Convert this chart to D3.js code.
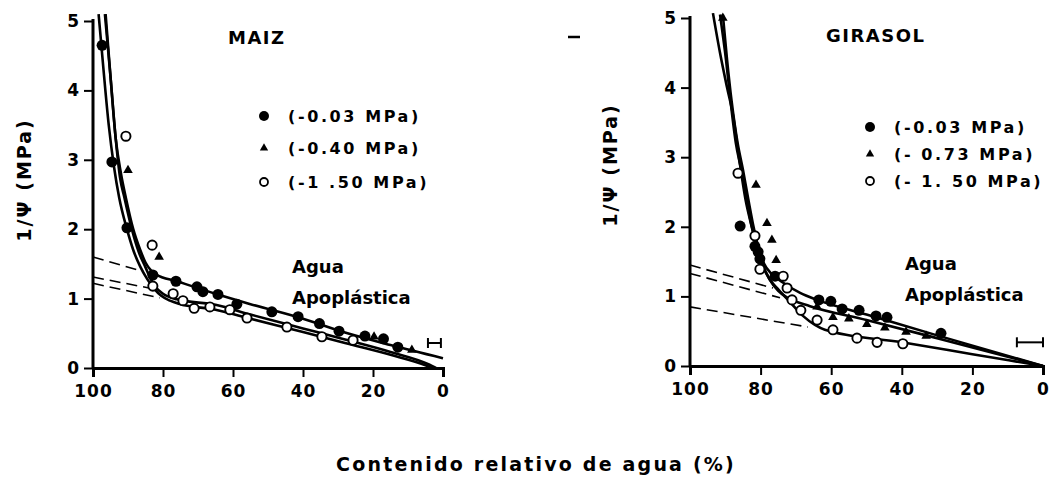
<!DOCTYPE html>
<html>
<head>
<meta charset="utf-8">
<script src="https://cdn.jsdelivr.net/npm/d3@7"></script>
<style>
body{margin:0;background:#fff;}
text{font-family:"DejaVu Sans",sans-serif;fill:#000;}
</style>
</head>
<body>
<script>
// ---- data (RWC %, 1/psi MPa) ----
var xTicks = [100,80,60,40,20,0];
var yTicks = [0,1,2,3,4,5];

// MAIZ
var maizFilled = [[97.4,4.65],[94.6,2.97],[90.3,2.02],[82.9,1.34],[76.3,1.25],[70.3,1.17],[68.6,1.10],[64.3,1.06],[58.9,0.92],[48.9,0.81],[41.4,0.74],[35.3,0.64],[29.7,0.53],[22.3,0.46],[17,0.42],[12.9,0.30]];
var maizTri = [[90,2.85],[81.1,1.60],[19.7,0.45],[8.9,0.26]];
var maizOpen = [[90.6,3.34],[83.1,1.77],[82.9,1.18],[77.1,1.07],[74.3,0.97],[71.1,0.86],[66.6,0.88],[60.9,0.84],[56,0.72],[44.6,0.59],[34.6,0.45],[25.7,0.40]];
var maizCurves = [
  [[98.4,5.1],[97,4.3],[95.5,3.5],[94,2.9],[92.5,2.45],[90.3,2.0],[88.5,1.7],[86.5,1.46],[84.5,1.28],[82.5,1.14],[80.5,1.04],[78,0.97],[75,0.92],[65,0.84],[55,0.71],[40,0.52],[28,0.36],[15,0.19],[5,0.04],[3,0]],
  [[96.6,5.1],[95,4.2],[93.5,3.3],[92.3,2.75],[91,2.45],[88.9,2.0],[87,1.68],[85,1.45],[83.5,1.28],[82,1.16],[80,1.07],[76,0.99],[65,0.91],[55,0.77],[40,0.57],[28,0.41],[15,0.23],[4,0.05],[2,0]],
  [[96.4,5.1],[95,4.2],[93.5,3.3],[92,2.8],[90.6,2.45],[88.5,2.0],[86.5,1.7],[85,1.52],[83.5,1.41],[82,1.35],[76,1.25],[65,1.07],[55,0.92],[40,0.71],[28,0.51],[15,0.33],[0,0.14]]
];
var maizDashed = [[[100,1.60],[87,1.41]],[[100,1.31],[83.7,1.15]],[[100,1.22],[80.9,1.01]]];
var maizErr = [[4.3,0.36],[0.6,0.36]];
var maizLegend = ["(-0.03  MPa)","(-0.40  MPa)","(-1 .50  MPa)"];

// GIRASOL
var giraFilled = [[85.8,2.01],[81.6,1.72],[80.7,1.64],[80.2,1.54],[75.9,1.29],[63.5,0.95],[60.1,0.93],[56.9,0.82],[52.1,0.80],[47.3,0.72],[44.2,0.70],[28.9,0.47]];
var giraTri = [[90.7,5.0],[81.3,2.60],[78.2,2.05],[76.8,1.81],[75.6,1.52],[64,0.85],[59.5,0.70],[55,0.68],[49.9,0.60],[44.8,0.55],[38.8,0.49],[33.1,0.43]];
var giraOpen = [[86.4,2.77],[81.6,1.87],[80.2,1.39],[73.6,1.29],[72.5,1.12],[71.1,0.95],[68.6,0.80],[64,0.66],[59.5,0.52],[52.7,0.40],[47,0.34],[39.7,0.32]];
var giraCurves = [
  [[90.7,5.05],[89.5,4.4],[88.2,3.8],[86.5,3.2],[85,2.82],[83.5,2.4],[82,2.0],[80.6,1.7],[79,1.47],[77,1.33],[73.7,1.2],[68.8,1.05],[64,0.95],[50,0.74],[30,0.44],[0,0]],
  [[91.5,5.05],[89.8,4.4],[88.5,3.8],[87,3.2],[85.5,2.82],[84,2.4],[82.5,2.0],[81,1.7],[79.5,1.47],[77.5,1.25],[75,1.08],[72,0.97],[66,0.86],[50,0.66],[30,0.40],[0,0]],
  [[93.5,5.07],[91.5,4.5],[89.5,4.0],[87.8,3.6],[86,2.95],[84.3,2.4],[82.5,2.0],[81,1.7],[79.5,1.45],[77.5,1.25],[75,1.1],[71.7,0.92],[68,0.72],[64.6,0.59],[61.8,0.52],[40,0.34],[20,0.17],[0,0]]
];
var giraDashed = [[[100,1.45],[76.5,1.12]],[[100,1.33],[74.5,0.98]],[[100,0.85],[66.6,0.56]]];
var giraErr = [[7.4,0.34],[0,0.34]];
var giraLegend = ["(-0.03  MPa)","(- 0.73  MPa)","(- 1. 50  MPa)"];

var svg = d3.select("body").append("svg").attr("width",1052).attr("height",477);

var drawPanel = function(p){
  var x = d3.scaleLinear().domain([100,0]).range(p.xr);
  var y = d3.scaleLinear().domain([0,5]).range(p.yr);
  var g = svg.append("g");

  var yAxis = g.append("g").attr("transform","translate("+p.xr[0]+",0)")
    .call(d3.axisLeft(y).tickValues(yTicks).tickSize(9).tickFormat(d3.format("d")));
  var xAxis = g.append("g").attr("transform","translate(0,"+p.yr[0]+")")
    .call(d3.axisBottom(x).tickValues(xTicks).tickSize(9).tickFormat(d3.format("d")));
  [yAxis,xAxis].forEach(function(a){
    a.select(".domain").attr("stroke","#000").attr("stroke-width",3);
    a.selectAll(".tick line").attr("stroke","#000").attr("stroke-width",2);
    a.selectAll(".tick text").style("font-size","17px").style("font-weight","bold").attr("fill","#000");
  });
  yAxis.selectAll(".tick text").attr("x",-14);
  xAxis.selectAll(".tick text").attr("y",17).style("letter-spacing","1px");
  yAxis.select(".domain").attr("d","M0,"+p.yr[0]+"V"+(p.yr[1]-2));

  var sorted = function(a){return a.slice().sort(function(m,n){return n[0]-m[0];});};
  var line = d3.line().x(function(d){return x(d[0]);}).y(function(d){return y(d[1]);})
    .curve(d3.curveMonotoneX);
  g.selectAll(".curve").data(p.curves.map(sorted)).enter().append("path")
    .attr("d",line).attr("fill","none").attr("stroke","#000").attr("stroke-width",2.6);
  g.selectAll(".dash").data(p.dashed).enter().append("path")
    .attr("d",d3.line().x(function(d){return x(d[0]);}).y(function(d){return y(d[1]);}))
    .attr("fill","none").attr("stroke","#000").attr("stroke-width",1.6).attr("stroke-dasharray","11,6");

  // error bar
  g.append("path").attr("d",d3.line().x(function(d){return x(d[0]);}).y(function(d){return y(d[1]);})(p.err))
    .attr("stroke","#000").attr("stroke-width",2);
  p.err.forEach(function(d){
    g.append("line").attr("x1",x(d[0])).attr("x2",x(d[0])).attr("y1",y(d[1])-5).attr("y2",y(d[1])+5)
      .attr("stroke","#000").attr("stroke-width",2);
  });

  // markers
  g.selectAll(".f").data(p.filled).enter().append("circle")
    .attr("cx",function(d){return x(d[0]);}).attr("cy",function(d){return y(d[1]);})
    .attr("r",5.5).attr("fill","#000");
  g.selectAll(".o").data(p.open).enter().append("circle")
    .attr("cx",function(d){return x(d[0]);}).attr("cy",function(d){return y(d[1]);})
    .attr("r",4.6).attr("fill","#fff").attr("stroke","#000").attr("stroke-width",1.9);
  g.selectAll(".t").data(p.tri).enter().append("path")
    .attr("d",d3.symbol().type(d3.symbolTriangle).size(40))
    .attr("transform",function(d){return "translate("+x(d[0])+","+y(d[1])+")";})
    .attr("fill","#000");

  // title
  g.append("text").attr("x",p.title[1]).attr("y",p.title[2]).text(p.title[0])
    .style("font-size","18px").style("font-weight","bold").style("letter-spacing","1.5px");

  // legend
  p.legendY.forEach(function(ly,i){
    if(i==0) g.append("circle").attr("cx",p.legendX).attr("cy",ly).attr("r",5).attr("fill","#000");
    if(i==1) g.append("path").attr("d",d3.symbol().type(d3.symbolTriangle).size(30)).attr("transform","translate("+p.legendX+","+ly+")").attr("fill","#000");
    if(i==2) g.append("circle").attr("cx",p.legendX).attr("cy",ly).attr("r",4).attr("fill","#fff").attr("stroke","#000").attr("stroke-width",1.8);
    g.append("text").attr("x",p.legendX+24).attr("y",ly+6).text(p.legend[i])
      .style("font-size","16px").style("letter-spacing","2.6px").style("font-weight","bold");
  });

  // annotation
  g.append("text").attr("x",p.agua[0]).attr("y",p.agua[1]).text("Agua")
    .style("font-size","18px").style("font-weight","bold");
  g.append("text").attr("x",p.agua[0]).attr("y",p.agua[1]+31).text("Apoplástica")
    .style("font-size","18px").style("font-weight","bold");

  // y label
  g.append("text").attr("transform","translate("+p.ylab[0]+","+p.ylab[1]+") rotate(-90)")
    .attr("text-anchor","middle").text("1/Ψ  (MPa)")
    .style("font-size","19px").style("font-weight","bold").style("letter-spacing","2px");
};

drawPanel({xr:[93,443],yr:[368,21],filled:maizFilled,tri:maizTri,open:maizOpen,curves:maizCurves,dashed:maizDashed,err:maizErr,
  legend:maizLegend,legendX:264,legendY:[116,148,182],title:["MAIZ",228,44],agua:[292,273],ylab:[31,180]});
drawPanel({xr:[690,1043],yr:[366,18],filled:giraFilled,tri:giraTri,open:giraOpen,curves:giraCurves,dashed:giraDashed,err:giraErr,
  legend:giraLegend,legendX:870,legendY:[127,154,181],title:["GIRASOL",826,42],agua:[905,270],ylab:[617,165]});

// stray mark
svg.append("line").attr("x1",568).attr("x2",580).attr("y1",37).attr("y2",37).attr("stroke","#000").attr("stroke-width",2.5);

svg.append("text").attr("x",536).attr("y",471).attr("text-anchor","middle")
  .text("Contenido relativo de agua (%)")
  .style("font-size","19px").style("font-weight","bold").style("letter-spacing","2.2px");
</script>
</body>
</html>
